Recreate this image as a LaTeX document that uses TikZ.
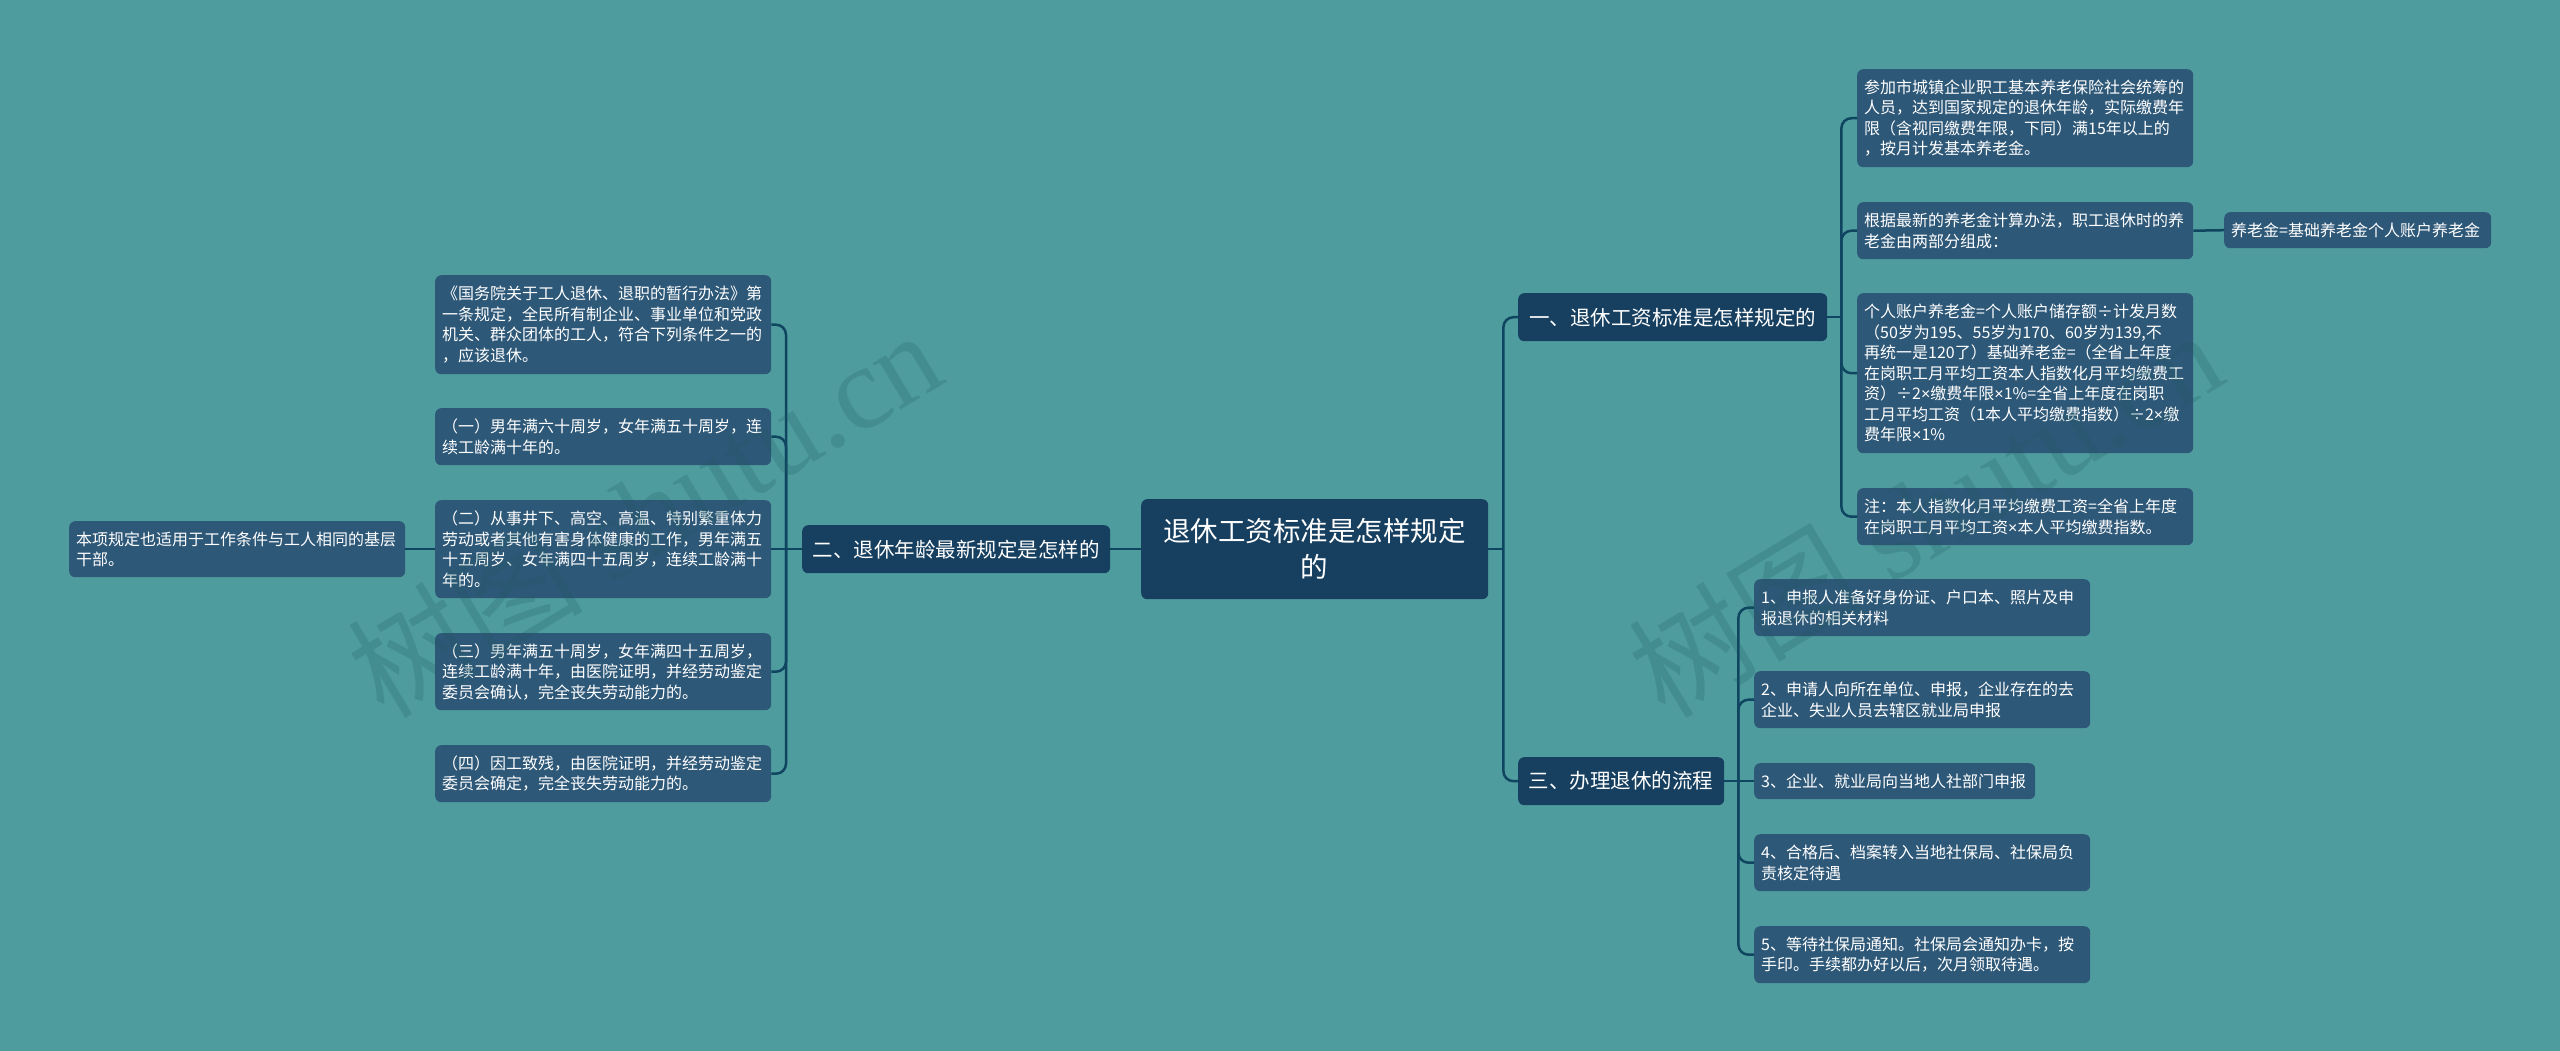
\documentclass[tikz,border=0pt]{standalone}
\usepackage{fontspec}
\setmainfont{Noto Sans CJK SC}
\newfontfamily\wmlatin{Liberation Serif}
\newfontfamily\latinsign{Liberation Sans}
\newcommand{\tm}{{\latinsign ×}}
\usetikzlibrary{calc}
\definecolor{bgc}{HTML}{4E9C9E}
\definecolor{subc}{HTML}{2E5878}
\definecolor{darkc}{HTML}{173F5F}
\definecolor{linec}{HTML}{0F4560}
\definecolor{wmc}{HTML}{1C5C62}
\tikzset{
  base/.style={anchor=north west,fill=subc,text=white,rounded corners=6pt,inner ysep=0pt,inner xsep=7pt,align=left,
    font=\fontsize{16}{20.5}\selectfont},
  wide/.style={base,text width=322pt},
  mid/.style={base,text width=267pt},
  leaf/.style={base,text width=253pt},
  branch/.style={base,fill=darkc,align=center,inner xsep=0pt,font=\fontsize{20.5}{26}\selectfont},
  rootbox/.style={base,fill=darkc,align=center,inner xsep=0pt,font=\fontsize{27.5}{36}\selectfont},
  link/.style={draw=linec,line width=2.5pt},
  elbow/.style={link,rounded corners=10pt},
  wm/.style={text=wmc,opacity=.22,rotate=31,font=\fontsize{118}{124}\selectfont}
}
\begin{document}
\begin{tikzpicture}[x=1pt,y=-1pt]
\fill[bgc] (0,0) rectangle (2560,1051);
\useasboundingbox (0,0) rectangle (2560,1051);

\node[rootbox,minimum width=347pt,minimum height=100pt] (root) at (1141,499) {退休工资标准是怎样规定\\的};
\node[branch,minimum width=309pt,minimum height=48pt] (one) at (1518,293) {一、退休工资标准是怎样规定的};
\node[branch,minimum width=206pt,minimum height=48pt] (three) at (1518,757) {三、办理退休的流程};
\node[branch,minimum width=308pt,minimum height=48pt] (two) at (802,525) {二、退休年龄最新规定是怎样的};

\node[wide,minimum height=98pt] (r1) at (1857,69) {参加市城镇企业职工基本养老保险社会统筹的\\人员，达到国家规定的退休年龄，实际缴费年\\限（含视同缴费年限，下同）满15年以上的\\，按月计发基本养老金。};
\node[wide,minimum height=57pt] (r2) at (1857,202) {根据最新的养老金计算办法，职工退休时的养\\老金由两部分组成：};
\node[leaf,minimum height=36pt] (r2a) at (2224,212) {养老金=基础养老金个人账户养老金};
\node[wide,minimum height=160pt] (r3) at (1857,293) {个人账户养老金=个人账户储存额÷计发月数\\（50岁为195、55岁为170、60岁为139,不\\再统一是120了）基础养老金=（全省上年度\\在岗职工月平均工资本人指数化月平均缴费工\\资）÷2\tm 缴费年限\tm 1\%=全省上年度在岗职\\工月平均工资（1本人平均缴费指数）÷2\tm 缴\\费年限\tm 1\%};
\node[wide,minimum height=57pt] (r4) at (1857,488) {注：本人指数化月平均缴费工资=全省上年度\\在岗职工月平均工资\tm 本人平均缴费指数。};

\node[wide,minimum height=57pt] (s1) at (1754,579) {1、申报人准备好身份证、户口本、照片及申\\报退休的相关材料};
\node[wide,minimum height=57pt] (s2) at (1754,671) {2、申请人向所在单位、申报，企业存在的去\\企业、失业人员去辖区就业局申报};
\node[mid,minimum height=36pt] (s3) at (1754,763) {3、企业、就业局向当地人社部门申报};
\node[wide,minimum height=57pt] (s4) at (1754,834) {4、合格后、档案转入当地社保局、社保局负\\责核定待遇};
\node[wide,minimum height=57pt] (s5) at (1754,926) {5、等待社保局通知。社保局会通知办卡，按\\手印。手续都办好以后，次月领取待遇。};

\node[wide,minimum height=99pt] (b1) at (435,275) {《国务院关于工人退休、退职的暂行办法》第\\一条规定，全民所有制企业、事业单位和党政\\机关、群众团体的工人，符合下列条件之一的\\，应该退休。};
\node[wide,minimum height=57pt] (b2) at (435,408) {（一）男年满六十周岁，女年满五十周岁，连\\续工龄满十年的。};
\node[wide,minimum height=98pt] (b3) at (435,500) {（二）从事井下、高空、高温、特别繁重体力\\劳动或者其他有害身体健康的工作，男年满五\\十五周岁、女年满四十五周岁，连续工龄满十\\年的。};
\node[wide,minimum height=77pt] (b4) at (435,633) {（三）男年满五十周岁，女年满四十五周岁，\\连续工龄满十年，由医院证明，并经劳动鉴定\\委员会确认，完全丧失劳动能力的。};
\node[wide,minimum height=57pt] (b5) at (435,745) {（四）因工致残，由医院证明，并经劳动鉴定\\委员会确定，完全丧失劳动能力的。};
\node[wide,minimum height=56pt] (l1) at (69,521) {本项规定也适用于工作条件与工人相同的基层\\干部。};

% connector junctions on the vertical bars
\coordinate (jroot) at ($(root.east)+(15,0)$);
\coordinate (jone) at ($(one.east)+(14,0)$);
\coordinate (jthree) at ($(three.east)+(14,0)$);
\coordinate (jtwo) at ($(two.west)+(-16,0)$);

\draw[link] (root.east) -- (jroot);
\draw[elbow] (jroot) |- (one.west);
\draw[elbow] (jroot) |- (three.west);
\draw[link] (root.west) -- (two.east);
\draw[link] (one.east) -- (jone);
\draw[elbow] (jone) |- (r1.west);
\draw[elbow] (jone) |- (r2.west);
\draw[elbow] (jone) |- (r3.west);
\draw[elbow] (jone) |- (r4.west);
\draw[link] (r2.east) -- (r2a.west);
\draw[link] (three.east) -- (s3.west);
\draw[elbow] (jthree) |- (s1.west);
\draw[elbow] (jthree) |- (s2.west);
\draw[elbow] (jthree) |- (s4.west);
\draw[elbow] (jthree) |- (s5.west);
\draw[link] (two.west) -- (b3.east);
\draw[elbow] (jtwo) |- (b1.east);
\draw[elbow] (jtwo) |- (b2.east);
\draw[elbow] (jtwo) |- (b4.east);
\draw[elbow] (jtwo) |- (b5.east);
\draw[link] (b3.west) -- (l1.east);

\node[wm] (wmleft) at (644,512) {树图 {\wmlatin shutu.cn}};
\node[wm] (wmright) at (1925,512) {树图 {\wmlatin shutu.cn}};
\end{tikzpicture}
\end{document}
